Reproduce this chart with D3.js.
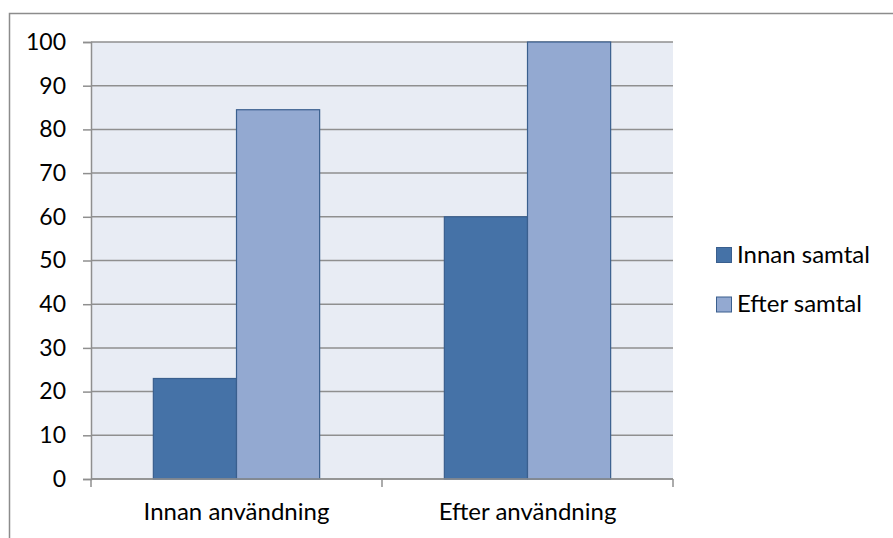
<!DOCTYPE html>
<html>
<head>
<meta charset="utf-8">
<script src="https://cdn.jsdelivr.net/npm/d3@7"></script>
<style>
  html, body { margin: 0; padding: 0; background: #fff; }
  svg { display: block; }
  text { font-family: Lato, "Open Sans", sans-serif; fill: #000; }
</style>
</head>
<body>
<svg id="chart" width="893" height="538"></svg>
<script>
// Data
const categories = ["Innan användning", "Efter användning"];
const seriesNames = ["Innan samtal", "Efter samtal"];
const innanSamtal = [23, 60];
const efterSamtal = [84.5, 100];
const yTicks = [0, 10, 20, 30, 40, 50, 60, 70, 80, 90, 100];

const colors = ["#4572A7", "#93A9D1"];
const seriesValues = [innanSamtal, efterSamtal];

const svg = d3.select("#chart");
const W = 893, H = 538;
const plot = { left: 91, top: 42, right: 673, bottom: 479 };

// Outer chart frame (extends past right and bottom edges)
svg.append("rect")
  .attr("x", 9.5).attr("y", 13.5)
  .attr("width", W + 10).attr("height", H + 10)
  .attr("fill", "#fff").attr("stroke", "#8c8c8c").attr("stroke-width", 1.5);

const x0 = d3.scaleBand().domain(categories).range([plot.left, plot.right]).paddingInner(0).paddingOuter(0);
const y = d3.scaleLinear().domain([0, 100]).range([plot.bottom, plot.top]);

// Plot background
svg.append("rect")
  .attr("x", plot.left).attr("y", plot.top)
  .attr("width", plot.right - plot.left).attr("height", plot.bottom - plot.top)
  .attr("fill", "#E8ECF4");

// Gridlines
svg.append("g").selectAll("line").data(yTicks).join("line")
  .attr("x1", plot.left).attr("x2", plot.right)
  .attr("y1", d => y(d)).attr("y2", d => y(d))
  .attr("stroke", "#8f8f8f").attr("stroke-width", 1.5);

// Bars: gap width 150% of bar width
const bw = x0.bandwidth() / 3.5;
categories.forEach((c, i) => {
  const g = svg.append("g");
  seriesValues.forEach((vals, s) => {
    const bx = x0(c) + 0.75 * bw + s * bw;
    g.append("rect")
      .attr("x", bx).attr("y", y(vals[i]))
      .attr("width", bw).attr("height", y(0) - y(vals[i]))
      .attr("fill", colors[s]).attr("stroke", "#3A5F8E").attr("stroke-width", 1.2);
  });
});

// Y axis
const yAxis = d3.axisLeft(y).tickValues(yTicks).tickSize(8).tickPadding(17).tickFormat(d3.format("d"));
const ya = svg.append("g").attr("transform", `translate(${plot.left},0)`).call(yAxis);
ya.select(".domain").attr("stroke", "#8f8f8f").attr("stroke-width", 1.5);
ya.selectAll(".tick line").attr("stroke", "#8f8f8f").attr("stroke-width", 1.5);
ya.selectAll("text").attr("font-size", 23).attr("font-family", "Lato, sans-serif").attr("fill", "#000");

// X axis
const xa = svg.append("g").attr("transform", `translate(0,${plot.bottom})`);
xa.append("line").attr("x1", plot.left).attr("x2", plot.right).attr("y1", 0).attr("y2", 0)
  .attr("stroke", "#8f8f8f").attr("stroke-width", 1.5);
const xTickPos = [plot.left, ...categories.map(c => x0(c) + x0.bandwidth())];
xa.selectAll("line.t").data(xTickPos).join("line").attr("class", "t")
  .attr("x1", d => d).attr("x2", d => d).attr("y1", 0).attr("y2", 8)
  .attr("stroke", "#8f8f8f").attr("stroke-width", 1.5);
xa.selectAll("text").data(categories).join("text")
  .attr("x", d => x0(d) + x0.bandwidth() / 2).attr("y", 41)
  .attr("text-anchor", "middle").attr("font-size", 24)
  .text(d => d);

// Legend
const lg = svg.append("g").attr("transform", "translate(716,247)");
seriesNames.forEach((n, i) => {
  const r = lg.append("g").attr("transform", `translate(0,${i * 49.5})`);
  r.append("rect").attr("x", 0.5).attr("y", 0.5).attr("width", 15).attr("height", 15)
    .attr("fill", colors[i]).attr("stroke", "#3A5F8E").attr("stroke-width", 1);
  r.append("text").attr("x", 21).attr("y", 15.5).attr("font-size", 24).text(n);
});
</script>
</body>
</html>
